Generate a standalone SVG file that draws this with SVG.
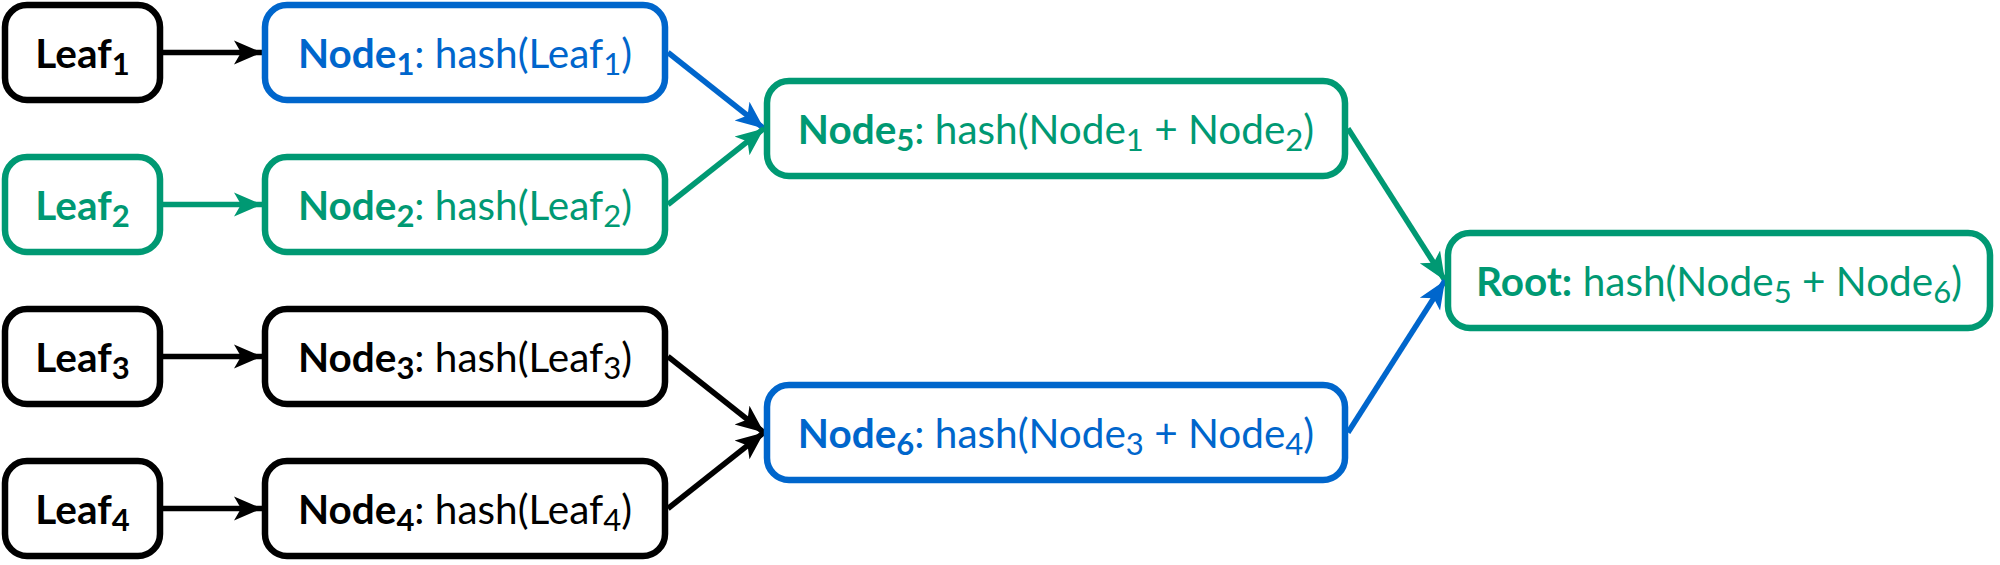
<svg xmlns="http://www.w3.org/2000/svg" width="2000" height="565" viewBox="0 0 2000 565">
<defs>
<style>
.box{fill:#fff;stroke-width:6.5}
.k{stroke:#000}.b{stroke:#0066cc}.g{stroke:#009973}
.t{font-family:Lato,"Noto Sans",sans-serif;font-size:40.5px;text-anchor:middle}
.tk{fill:#000}.tb{fill:#0066cc}.tg{fill:#009973}
.bd{font-weight:bold}
.s{font-size:31px}
.ln{fill:none;stroke-width:5.5}
</style>
<marker id="ak" markerUnits="userSpaceOnUse" markerWidth="30" markerHeight="26" refX="28" refY="13" orient="auto" viewBox="0 0 30 26"><path d="M0,1 L28,13 L0,25 L7,13 Z" fill="#000"/></marker>
<marker id="ab" markerUnits="userSpaceOnUse" markerWidth="30" markerHeight="26" refX="28" refY="13" orient="auto" viewBox="0 0 30 26"><path d="M0,1 L28,13 L0,25 L7,13 Z" fill="#0066cc"/></marker>
<marker id="ag" markerUnits="userSpaceOnUse" markerWidth="30" markerHeight="26" refX="28" refY="13" orient="auto" viewBox="0 0 30 26"><path d="M0,1 L28,13 L0,25 L7,13 Z" fill="#009973"/></marker>
</defs>
<g id="connectors">
<line class="ln k" x1="163" y1="52.5" x2="262" y2="52.5" marker-end="url(#ak)"/>
<line class="ln g" x1="163" y1="204.5" x2="262" y2="204.5" marker-end="url(#ag)"/>
<line class="ln k" x1="163" y1="356.5" x2="262" y2="356.5" marker-end="url(#ak)"/>
<line class="ln k" x1="163" y1="508.5" x2="262" y2="508.5" marker-end="url(#ak)"/>
<line class="ln b" x1="668" y1="52.5" x2="764" y2="128.5" marker-end="url(#ab)"/>
<line class="ln g" x1="668" y1="204.5" x2="764" y2="128.5" marker-end="url(#ag)"/>
<line class="ln k" x1="668" y1="356.5" x2="764" y2="432.5" marker-end="url(#ak)"/>
<line class="ln k" x1="668" y1="508.5" x2="764" y2="432.5" marker-end="url(#ak)"/>
<line class="ln g" x1="1348" y1="128.5" x2="1445" y2="280.5" marker-end="url(#ag)"/>
<line class="ln b" x1="1348" y1="432.5" x2="1445" y2="280.5" marker-end="url(#ab)"/>
</g>
<g id="leaf1"><rect class="box k" x="5" y="5" width="155" height="95" rx="22"/>
<text class="t tk bd" x="82.5" y="68">Leaf<tspan class="s" dy="7">1</tspan></text></g>
<g id="leaf2"><rect class="box g" x="5" y="157" width="155" height="95" rx="22"/>
<text class="t tg bd" x="82.5" y="220">Leaf<tspan class="s" dy="7">2</tspan></text></g>
<g id="leaf3"><rect class="box k" x="5" y="309" width="155" height="95" rx="22"/>
<text class="t tk bd" x="82.5" y="372">Leaf<tspan class="s" dy="7">3</tspan></text></g>
<g id="leaf4"><rect class="box k" x="5" y="461" width="155" height="95" rx="22"/>
<text class="t tk bd" x="82.5" y="524">Leaf<tspan class="s" dy="7">4</tspan></text></g>
<g id="node1"><rect class="box b" x="265" y="5" width="400" height="95" rx="22"/>
<text class="t tb" x="465" y="68"><tspan class="bd">Node</tspan><tspan class="bd s" dy="7">1</tspan><tspan dy="-7">: hash(Leaf</tspan><tspan class="s" dy="7">1</tspan><tspan dy="-7">)</tspan></text></g>
<g id="node2"><rect class="box g" x="265" y="157" width="400" height="95" rx="22"/>
<text class="t tg" x="465" y="220"><tspan class="bd">Node</tspan><tspan class="bd s" dy="7">2</tspan><tspan dy="-7">: hash(Leaf</tspan><tspan class="s" dy="7">2</tspan><tspan dy="-7">)</tspan></text></g>
<g id="node3"><rect class="box k" x="265" y="309" width="400" height="95" rx="22"/>
<text class="t tk" x="465" y="372"><tspan class="bd">Node</tspan><tspan class="bd s" dy="7">3</tspan><tspan dy="-7">: hash(Leaf</tspan><tspan class="s" dy="7">3</tspan><tspan dy="-7">)</tspan></text></g>
<g id="node4"><rect class="box k" x="265" y="461" width="400" height="95" rx="22"/>
<text class="t tk" x="465" y="524"><tspan class="bd">Node</tspan><tspan class="bd s" dy="7">4</tspan><tspan dy="-7">: hash(Leaf</tspan><tspan class="s" dy="7">4</tspan><tspan dy="-7">)</tspan></text></g>
<g id="node5"><rect class="box g" x="767" y="81" width="578" height="95" rx="22"/>
<text class="t tg" x="1056" y="144"><tspan class="bd">Node</tspan><tspan class="bd s" dy="7">5</tspan><tspan dy="-7">: hash(Node</tspan><tspan class="s" dy="7">1</tspan><tspan dy="-7"> + Node</tspan><tspan class="s" dy="7">2</tspan><tspan dy="-7">)</tspan></text></g>
<g id="node6"><rect class="box b" x="767" y="385" width="578" height="95" rx="22"/>
<text class="t tb" x="1056" y="448"><tspan class="bd">Node</tspan><tspan class="bd s" dy="7">6</tspan><tspan dy="-7">: hash(Node</tspan><tspan class="s" dy="7">3</tspan><tspan dy="-7"> + Node</tspan><tspan class="s" dy="7">4</tspan><tspan dy="-7">)</tspan></text></g>
<g id="root"><rect class="box g" x="1448" y="233" width="542" height="95" rx="22"/>
<text class="t tg" x="1719" y="296"><tspan class="bd">Root:</tspan><tspan> hash(Node</tspan><tspan class="s" dy="7">5</tspan><tspan dy="-7"> + Node</tspan><tspan class="s" dy="7">6</tspan><tspan dy="-7">)</tspan></text></g>
</svg>
